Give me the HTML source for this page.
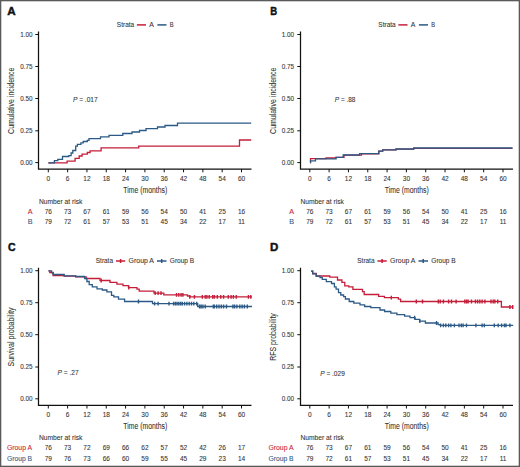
<!DOCTYPE html><html><head><meta charset="utf-8"><style>html,body{margin:0;padding:0;background:#fff;}svg{display:block;}text{font-family:"Liberation Sans", sans-serif;}</style></head><body>
<svg width="520" height="467" viewBox="0 0 520 467">
<rect x="0" y="0" width="520" height="467" fill="#ffffff"/>
<text x="7.30" y="15.00" font-size="11.4" text-anchor="start" fill="#111" font-weight="bold" font-style="normal" textLength="8.4" lengthAdjust="spacingAndGlyphs" stroke="#111" stroke-width="0.45">A</text>
<text x="270.30" y="15.10" font-size="11.4" text-anchor="start" fill="#111" font-weight="bold" font-style="normal" textLength="6.9" lengthAdjust="spacingAndGlyphs" stroke="#111" stroke-width="0.45">B</text>
<text x="8.00" y="251.30" font-size="11.4" text-anchor="start" fill="#111" font-weight="bold" font-style="normal" textLength="7.6" lengthAdjust="spacingAndGlyphs" stroke="#111" stroke-width="0.45">C</text>
<text x="269.90" y="251.30" font-size="11.4" text-anchor="start" fill="#111" font-weight="bold" font-style="normal" textLength="8.3" lengthAdjust="spacingAndGlyphs" stroke="#111" stroke-width="0.45">D</text>
<path d="M38.50,31.50 V169.10 H251.50" fill="none" stroke="#111111" stroke-width="1.25"/>
<path d="M35.30,34.50 H38.50 M35.30,66.50 H38.50 M35.30,98.50 H38.50 M35.30,130.80 H38.50 M35.30,162.60 H38.50 M48.30,169.10 V172.30 M67.62,169.10 V172.30 M86.94,169.10 V172.30 M106.26,169.10 V172.30 M125.58,169.10 V172.30 M144.90,169.10 V172.30 M164.22,169.10 V172.30 M183.54,169.10 V172.30 M202.86,169.10 V172.30 M222.18,169.10 V172.30 M241.50,169.10 V172.30 " fill="none" stroke="#111111" stroke-width="1"/>
<text x="32.60" y="36.80" font-size="6.4" text-anchor="end" fill="#333333" font-weight="normal" font-style="normal" textLength="12.4" lengthAdjust="spacingAndGlyphs" stroke="#333333" stroke-width="0.08">1.00</text>
<text x="32.60" y="68.80" font-size="6.4" text-anchor="end" fill="#333333" font-weight="normal" font-style="normal" textLength="12.4" lengthAdjust="spacingAndGlyphs" stroke="#333333" stroke-width="0.08">0.75</text>
<text x="32.60" y="100.80" font-size="6.4" text-anchor="end" fill="#333333" font-weight="normal" font-style="normal" textLength="12.4" lengthAdjust="spacingAndGlyphs" stroke="#333333" stroke-width="0.08">0.50</text>
<text x="32.60" y="133.10" font-size="6.4" text-anchor="end" fill="#333333" font-weight="normal" font-style="normal" textLength="12.4" lengthAdjust="spacingAndGlyphs" stroke="#333333" stroke-width="0.08">0.25</text>
<text x="32.60" y="164.90" font-size="6.4" text-anchor="end" fill="#333333" font-weight="normal" font-style="normal" textLength="12.4" lengthAdjust="spacingAndGlyphs" stroke="#333333" stroke-width="0.08">0.00</text>
<text x="48.30" y="180.70" font-size="6.5" text-anchor="middle" fill="#333333" font-weight="normal" font-style="normal" stroke="#333333" stroke-width="0.08">0</text>
<text x="67.62" y="180.70" font-size="6.5" text-anchor="middle" fill="#333333" font-weight="normal" font-style="normal" stroke="#333333" stroke-width="0.08">6</text>
<text x="86.94" y="180.70" font-size="6.5" text-anchor="middle" fill="#333333" font-weight="normal" font-style="normal" stroke="#333333" stroke-width="0.08">12</text>
<text x="106.26" y="180.70" font-size="6.5" text-anchor="middle" fill="#333333" font-weight="normal" font-style="normal" stroke="#333333" stroke-width="0.08">18</text>
<text x="125.58" y="180.70" font-size="6.5" text-anchor="middle" fill="#333333" font-weight="normal" font-style="normal" stroke="#333333" stroke-width="0.08">24</text>
<text x="144.90" y="180.70" font-size="6.5" text-anchor="middle" fill="#333333" font-weight="normal" font-style="normal" stroke="#333333" stroke-width="0.08">30</text>
<text x="164.22" y="180.70" font-size="6.5" text-anchor="middle" fill="#333333" font-weight="normal" font-style="normal" stroke="#333333" stroke-width="0.08">36</text>
<text x="183.54" y="180.70" font-size="6.5" text-anchor="middle" fill="#333333" font-weight="normal" font-style="normal" stroke="#333333" stroke-width="0.08">42</text>
<text x="202.86" y="180.70" font-size="6.5" text-anchor="middle" fill="#333333" font-weight="normal" font-style="normal" stroke="#333333" stroke-width="0.08">48</text>
<text x="222.18" y="180.70" font-size="6.5" text-anchor="middle" fill="#333333" font-weight="normal" font-style="normal" stroke="#333333" stroke-width="0.08">54</text>
<text x="241.50" y="180.70" font-size="6.5" text-anchor="middle" fill="#333333" font-weight="normal" font-style="normal" stroke="#333333" stroke-width="0.08">60</text>
<text x="123.30" y="193.00" font-size="8.4" text-anchor="start" fill="#333333" font-weight="normal" font-style="normal" textLength="44" lengthAdjust="spacingAndGlyphs" stroke="#333333" stroke-width="0.08">Time (months)</text>
<text transform="translate(14.00,100.80) rotate(-90)" x="0" y="0" font-size="8.4" text-anchor="middle" fill="#333333" stroke="#333333" stroke-width="0.08" textLength="66.2" lengthAdjust="spacingAndGlyphs">Cumulative incidence</text>
<path d="M300.50,31.50 V169.10 H513.00" fill="none" stroke="#111111" stroke-width="1.25"/>
<path d="M297.30,34.50 H300.50 M297.30,66.50 H300.50 M297.30,98.50 H300.50 M297.30,130.80 H300.50 M297.30,162.60 H300.50 M309.80,169.10 V172.30 M329.12,169.10 V172.30 M348.44,169.10 V172.30 M367.76,169.10 V172.30 M387.08,169.10 V172.30 M406.40,169.10 V172.30 M425.72,169.10 V172.30 M445.04,169.10 V172.30 M464.36,169.10 V172.30 M483.68,169.10 V172.30 M503.00,169.10 V172.30 " fill="none" stroke="#111111" stroke-width="1"/>
<text x="294.10" y="36.80" font-size="6.4" text-anchor="end" fill="#333333" font-weight="normal" font-style="normal" textLength="12.4" lengthAdjust="spacingAndGlyphs" stroke="#333333" stroke-width="0.08">1.00</text>
<text x="294.10" y="68.80" font-size="6.4" text-anchor="end" fill="#333333" font-weight="normal" font-style="normal" textLength="12.4" lengthAdjust="spacingAndGlyphs" stroke="#333333" stroke-width="0.08">0.75</text>
<text x="294.10" y="100.80" font-size="6.4" text-anchor="end" fill="#333333" font-weight="normal" font-style="normal" textLength="12.4" lengthAdjust="spacingAndGlyphs" stroke="#333333" stroke-width="0.08">0.50</text>
<text x="294.10" y="133.10" font-size="6.4" text-anchor="end" fill="#333333" font-weight="normal" font-style="normal" textLength="12.4" lengthAdjust="spacingAndGlyphs" stroke="#333333" stroke-width="0.08">0.25</text>
<text x="294.10" y="164.90" font-size="6.4" text-anchor="end" fill="#333333" font-weight="normal" font-style="normal" textLength="12.4" lengthAdjust="spacingAndGlyphs" stroke="#333333" stroke-width="0.08">0.00</text>
<text x="309.80" y="180.70" font-size="6.5" text-anchor="middle" fill="#333333" font-weight="normal" font-style="normal" stroke="#333333" stroke-width="0.08">0</text>
<text x="329.12" y="180.70" font-size="6.5" text-anchor="middle" fill="#333333" font-weight="normal" font-style="normal" stroke="#333333" stroke-width="0.08">6</text>
<text x="348.44" y="180.70" font-size="6.5" text-anchor="middle" fill="#333333" font-weight="normal" font-style="normal" stroke="#333333" stroke-width="0.08">12</text>
<text x="367.76" y="180.70" font-size="6.5" text-anchor="middle" fill="#333333" font-weight="normal" font-style="normal" stroke="#333333" stroke-width="0.08">18</text>
<text x="387.08" y="180.70" font-size="6.5" text-anchor="middle" fill="#333333" font-weight="normal" font-style="normal" stroke="#333333" stroke-width="0.08">24</text>
<text x="406.40" y="180.70" font-size="6.5" text-anchor="middle" fill="#333333" font-weight="normal" font-style="normal" stroke="#333333" stroke-width="0.08">30</text>
<text x="425.72" y="180.70" font-size="6.5" text-anchor="middle" fill="#333333" font-weight="normal" font-style="normal" stroke="#333333" stroke-width="0.08">36</text>
<text x="445.04" y="180.70" font-size="6.5" text-anchor="middle" fill="#333333" font-weight="normal" font-style="normal" stroke="#333333" stroke-width="0.08">42</text>
<text x="464.36" y="180.70" font-size="6.5" text-anchor="middle" fill="#333333" font-weight="normal" font-style="normal" stroke="#333333" stroke-width="0.08">48</text>
<text x="483.68" y="180.70" font-size="6.5" text-anchor="middle" fill="#333333" font-weight="normal" font-style="normal" stroke="#333333" stroke-width="0.08">54</text>
<text x="503.00" y="180.70" font-size="6.5" text-anchor="middle" fill="#333333" font-weight="normal" font-style="normal" stroke="#333333" stroke-width="0.08">60</text>
<text x="384.80" y="193.00" font-size="8.4" text-anchor="start" fill="#333333" font-weight="normal" font-style="normal" textLength="44" lengthAdjust="spacingAndGlyphs" stroke="#333333" stroke-width="0.08">Time (months)</text>
<text transform="translate(275.50,100.80) rotate(-90)" x="0" y="0" font-size="8.4" text-anchor="middle" fill="#333333" stroke="#333333" stroke-width="0.08" textLength="66.2" lengthAdjust="spacingAndGlyphs">Cumulative incidence</text>
<path d="M38.50,267.70 V405.30 H251.50" fill="none" stroke="#111111" stroke-width="1.25"/>
<path d="M35.30,270.70 H38.50 M35.30,302.70 H38.50 M35.30,334.70 H38.50 M35.30,367.00 H38.50 M35.30,398.80 H38.50 M48.30,405.30 V408.50 M67.62,405.30 V408.50 M86.94,405.30 V408.50 M106.26,405.30 V408.50 M125.58,405.30 V408.50 M144.90,405.30 V408.50 M164.22,405.30 V408.50 M183.54,405.30 V408.50 M202.86,405.30 V408.50 M222.18,405.30 V408.50 M241.50,405.30 V408.50 " fill="none" stroke="#111111" stroke-width="1"/>
<text x="32.60" y="273.00" font-size="6.4" text-anchor="end" fill="#333333" font-weight="normal" font-style="normal" textLength="12.4" lengthAdjust="spacingAndGlyphs" stroke="#333333" stroke-width="0.08">1.00</text>
<text x="32.60" y="305.00" font-size="6.4" text-anchor="end" fill="#333333" font-weight="normal" font-style="normal" textLength="12.4" lengthAdjust="spacingAndGlyphs" stroke="#333333" stroke-width="0.08">0.75</text>
<text x="32.60" y="337.00" font-size="6.4" text-anchor="end" fill="#333333" font-weight="normal" font-style="normal" textLength="12.4" lengthAdjust="spacingAndGlyphs" stroke="#333333" stroke-width="0.08">0.50</text>
<text x="32.60" y="369.30" font-size="6.4" text-anchor="end" fill="#333333" font-weight="normal" font-style="normal" textLength="12.4" lengthAdjust="spacingAndGlyphs" stroke="#333333" stroke-width="0.08">0.25</text>
<text x="32.60" y="401.10" font-size="6.4" text-anchor="end" fill="#333333" font-weight="normal" font-style="normal" textLength="12.4" lengthAdjust="spacingAndGlyphs" stroke="#333333" stroke-width="0.08">0.00</text>
<text x="48.30" y="416.90" font-size="6.5" text-anchor="middle" fill="#333333" font-weight="normal" font-style="normal" stroke="#333333" stroke-width="0.08">0</text>
<text x="67.62" y="416.90" font-size="6.5" text-anchor="middle" fill="#333333" font-weight="normal" font-style="normal" stroke="#333333" stroke-width="0.08">6</text>
<text x="86.94" y="416.90" font-size="6.5" text-anchor="middle" fill="#333333" font-weight="normal" font-style="normal" stroke="#333333" stroke-width="0.08">12</text>
<text x="106.26" y="416.90" font-size="6.5" text-anchor="middle" fill="#333333" font-weight="normal" font-style="normal" stroke="#333333" stroke-width="0.08">18</text>
<text x="125.58" y="416.90" font-size="6.5" text-anchor="middle" fill="#333333" font-weight="normal" font-style="normal" stroke="#333333" stroke-width="0.08">24</text>
<text x="144.90" y="416.90" font-size="6.5" text-anchor="middle" fill="#333333" font-weight="normal" font-style="normal" stroke="#333333" stroke-width="0.08">30</text>
<text x="164.22" y="416.90" font-size="6.5" text-anchor="middle" fill="#333333" font-weight="normal" font-style="normal" stroke="#333333" stroke-width="0.08">36</text>
<text x="183.54" y="416.90" font-size="6.5" text-anchor="middle" fill="#333333" font-weight="normal" font-style="normal" stroke="#333333" stroke-width="0.08">42</text>
<text x="202.86" y="416.90" font-size="6.5" text-anchor="middle" fill="#333333" font-weight="normal" font-style="normal" stroke="#333333" stroke-width="0.08">48</text>
<text x="222.18" y="416.90" font-size="6.5" text-anchor="middle" fill="#333333" font-weight="normal" font-style="normal" stroke="#333333" stroke-width="0.08">54</text>
<text x="241.50" y="416.90" font-size="6.5" text-anchor="middle" fill="#333333" font-weight="normal" font-style="normal" stroke="#333333" stroke-width="0.08">60</text>
<text x="123.30" y="429.20" font-size="8.4" text-anchor="start" fill="#333333" font-weight="normal" font-style="normal" textLength="44" lengthAdjust="spacingAndGlyphs" stroke="#333333" stroke-width="0.08">Time (months)</text>
<text transform="translate(14.00,337.00) rotate(-90)" x="0" y="0" font-size="8.4" text-anchor="middle" fill="#333333" stroke="#333333" stroke-width="0.08" textLength="59" lengthAdjust="spacingAndGlyphs">Survival probability</text>
<path d="M300.50,267.70 V405.30 H513.00" fill="none" stroke="#111111" stroke-width="1.25"/>
<path d="M297.30,270.70 H300.50 M297.30,302.70 H300.50 M297.30,334.70 H300.50 M297.30,367.00 H300.50 M297.30,398.80 H300.50 M309.80,405.30 V408.50 M329.12,405.30 V408.50 M348.44,405.30 V408.50 M367.76,405.30 V408.50 M387.08,405.30 V408.50 M406.40,405.30 V408.50 M425.72,405.30 V408.50 M445.04,405.30 V408.50 M464.36,405.30 V408.50 M483.68,405.30 V408.50 M503.00,405.30 V408.50 " fill="none" stroke="#111111" stroke-width="1"/>
<text x="294.10" y="273.00" font-size="6.4" text-anchor="end" fill="#333333" font-weight="normal" font-style="normal" textLength="12.4" lengthAdjust="spacingAndGlyphs" stroke="#333333" stroke-width="0.08">1.00</text>
<text x="294.10" y="305.00" font-size="6.4" text-anchor="end" fill="#333333" font-weight="normal" font-style="normal" textLength="12.4" lengthAdjust="spacingAndGlyphs" stroke="#333333" stroke-width="0.08">0.75</text>
<text x="294.10" y="337.00" font-size="6.4" text-anchor="end" fill="#333333" font-weight="normal" font-style="normal" textLength="12.4" lengthAdjust="spacingAndGlyphs" stroke="#333333" stroke-width="0.08">0.50</text>
<text x="294.10" y="369.30" font-size="6.4" text-anchor="end" fill="#333333" font-weight="normal" font-style="normal" textLength="12.4" lengthAdjust="spacingAndGlyphs" stroke="#333333" stroke-width="0.08">0.25</text>
<text x="294.10" y="401.10" font-size="6.4" text-anchor="end" fill="#333333" font-weight="normal" font-style="normal" textLength="12.4" lengthAdjust="spacingAndGlyphs" stroke="#333333" stroke-width="0.08">0.00</text>
<text x="309.80" y="416.90" font-size="6.5" text-anchor="middle" fill="#333333" font-weight="normal" font-style="normal" stroke="#333333" stroke-width="0.08">0</text>
<text x="329.12" y="416.90" font-size="6.5" text-anchor="middle" fill="#333333" font-weight="normal" font-style="normal" stroke="#333333" stroke-width="0.08">6</text>
<text x="348.44" y="416.90" font-size="6.5" text-anchor="middle" fill="#333333" font-weight="normal" font-style="normal" stroke="#333333" stroke-width="0.08">12</text>
<text x="367.76" y="416.90" font-size="6.5" text-anchor="middle" fill="#333333" font-weight="normal" font-style="normal" stroke="#333333" stroke-width="0.08">18</text>
<text x="387.08" y="416.90" font-size="6.5" text-anchor="middle" fill="#333333" font-weight="normal" font-style="normal" stroke="#333333" stroke-width="0.08">24</text>
<text x="406.40" y="416.90" font-size="6.5" text-anchor="middle" fill="#333333" font-weight="normal" font-style="normal" stroke="#333333" stroke-width="0.08">30</text>
<text x="425.72" y="416.90" font-size="6.5" text-anchor="middle" fill="#333333" font-weight="normal" font-style="normal" stroke="#333333" stroke-width="0.08">36</text>
<text x="445.04" y="416.90" font-size="6.5" text-anchor="middle" fill="#333333" font-weight="normal" font-style="normal" stroke="#333333" stroke-width="0.08">42</text>
<text x="464.36" y="416.90" font-size="6.5" text-anchor="middle" fill="#333333" font-weight="normal" font-style="normal" stroke="#333333" stroke-width="0.08">48</text>
<text x="483.68" y="416.90" font-size="6.5" text-anchor="middle" fill="#333333" font-weight="normal" font-style="normal" stroke="#333333" stroke-width="0.08">54</text>
<text x="503.00" y="416.90" font-size="6.5" text-anchor="middle" fill="#333333" font-weight="normal" font-style="normal" stroke="#333333" stroke-width="0.08">60</text>
<text x="384.80" y="429.20" font-size="8.4" text-anchor="start" fill="#333333" font-weight="normal" font-style="normal" textLength="44" lengthAdjust="spacingAndGlyphs" stroke="#333333" stroke-width="0.08">Time (months)</text>
<text transform="translate(275.50,337.00) rotate(-90)" x="0" y="0" font-size="8.4" text-anchor="middle" fill="#333333" stroke="#333333" stroke-width="0.08" textLength="47.6" lengthAdjust="spacingAndGlyphs">RFS probability</text>
<text x="116.80" y="26.90" font-size="7.1" text-anchor="start" fill="#333333" font-weight="normal" font-style="normal" textLength="17.4" lengthAdjust="spacingAndGlyphs" stroke="#333333" stroke-width="0.08">Strata</text>
<path d="M136.90,24.9 H146.00" stroke="#c41e3a" stroke-width="1.5"/>
<text x="149.20" y="26.90" font-size="7.1" text-anchor="start" fill="#333333" font-weight="normal" font-style="normal" textLength="4.6" lengthAdjust="spacingAndGlyphs" stroke="#333333" stroke-width="0.08">A</text>
<path d="M157.40,24.9 H166.50" stroke="#2b5a86" stroke-width="1.5"/>
<text x="169.80" y="26.90" font-size="7.1" text-anchor="start" fill="#333333" font-weight="normal" font-style="normal" textLength="3.8" lengthAdjust="spacingAndGlyphs" stroke="#333333" stroke-width="0.08">B</text>
<text x="378.30" y="26.90" font-size="7.1" text-anchor="start" fill="#333333" font-weight="normal" font-style="normal" textLength="17.4" lengthAdjust="spacingAndGlyphs" stroke="#333333" stroke-width="0.08">Strata</text>
<path d="M398.40,24.9 H407.50" stroke="#c41e3a" stroke-width="1.5"/>
<text x="410.70" y="26.90" font-size="7.1" text-anchor="start" fill="#333333" font-weight="normal" font-style="normal" textLength="4.6" lengthAdjust="spacingAndGlyphs" stroke="#333333" stroke-width="0.08">A</text>
<path d="M418.90,24.9 H428.00" stroke="#2b5a86" stroke-width="1.5"/>
<text x="431.30" y="26.90" font-size="7.1" text-anchor="start" fill="#333333" font-weight="normal" font-style="normal" textLength="3.8" lengthAdjust="spacingAndGlyphs" stroke="#333333" stroke-width="0.08">B</text>
<text x="95.80" y="263.10" font-size="7.1" text-anchor="start" fill="#333333" font-weight="normal" font-style="normal" textLength="17.2" lengthAdjust="spacingAndGlyphs" stroke="#333333" stroke-width="0.08">Strata</text>
<path d="M116.00,261.10 H125.20 M120.60,259.10 V263.10" stroke="#c41e3a" stroke-width="1.5"/>
<text x="128.60" y="263.10" font-size="7.1" text-anchor="start" fill="#333333" font-weight="normal" font-style="normal" textLength="25.4" lengthAdjust="spacingAndGlyphs" stroke="#333333" stroke-width="0.08">Group A</text>
<path d="M157.00,261.10 H166.50 M161.70,259.10 V263.10" stroke="#2b5a86" stroke-width="1.5"/>
<text x="169.80" y="263.10" font-size="7.1" text-anchor="start" fill="#333333" font-weight="normal" font-style="normal" textLength="24.4" lengthAdjust="spacingAndGlyphs" stroke="#333333" stroke-width="0.08">Group B</text>
<text x="357.30" y="263.10" font-size="7.1" text-anchor="start" fill="#333333" font-weight="normal" font-style="normal" textLength="17.2" lengthAdjust="spacingAndGlyphs" stroke="#333333" stroke-width="0.08">Strata</text>
<path d="M377.50,261.10 H386.70 M382.10,259.10 V263.10" stroke="#c41e3a" stroke-width="1.5"/>
<text x="390.10" y="263.10" font-size="7.1" text-anchor="start" fill="#333333" font-weight="normal" font-style="normal" textLength="25.4" lengthAdjust="spacingAndGlyphs" stroke="#333333" stroke-width="0.08">Group A</text>
<path d="M418.50,261.10 H428.00 M423.20,259.10 V263.10" stroke="#2b5a86" stroke-width="1.5"/>
<text x="431.30" y="263.10" font-size="7.1" text-anchor="start" fill="#333333" font-weight="normal" font-style="normal" textLength="24.4" lengthAdjust="spacingAndGlyphs" stroke="#333333" stroke-width="0.08">Group B</text>
<text x="72.90" y="102.00" font-size="6.8" fill="#333333" stroke="#333333" stroke-width="0.08" textLength="24.8" lengthAdjust="spacingAndGlyphs"><tspan font-style="italic">P</tspan> = .017</text>
<text x="334.80" y="101.80" font-size="6.8" fill="#333333" stroke="#333333" stroke-width="0.08" textLength="20.6" lengthAdjust="spacingAndGlyphs"><tspan font-style="italic">P</tspan> = .88</text>
<text x="57.50" y="375.30" font-size="6.8" fill="#333333" stroke="#333333" stroke-width="0.08" textLength="21.2" lengthAdjust="spacingAndGlyphs"><tspan font-style="italic">P</tspan> = .27</text>
<text x="320.20" y="375.60" font-size="6.8" fill="#333333" stroke="#333333" stroke-width="0.08" textLength="24.6" lengthAdjust="spacingAndGlyphs"><tspan font-style="italic">P</tspan> = .029</text>
<text x="38.90" y="204.20" font-size="6.7" text-anchor="start" fill="#333333" font-weight="normal" font-style="normal" textLength="43.5" lengthAdjust="spacingAndGlyphs" stroke="#333333" stroke-width="0.08">Number at risk</text>
<text x="27.70" y="214.20" font-size="6.5" text-anchor="start" fill="#c41e3a" font-weight="normal" font-style="normal" textLength="4.8" lengthAdjust="spacingAndGlyphs" stroke="#c41e3a" stroke-width="0.08">A</text>
<text x="48.30" y="214.20" font-size="6.5" text-anchor="middle" fill="#333333" font-weight="normal" font-style="normal" stroke="#333333" stroke-width="0.08">76</text>
<text x="67.62" y="214.20" font-size="6.5" text-anchor="middle" fill="#333333" font-weight="normal" font-style="normal" stroke="#333333" stroke-width="0.08">73</text>
<text x="86.94" y="214.20" font-size="6.5" text-anchor="middle" fill="#333333" font-weight="normal" font-style="normal" stroke="#333333" stroke-width="0.08">67</text>
<text x="106.26" y="214.20" font-size="6.5" text-anchor="middle" fill="#333333" font-weight="normal" font-style="normal" stroke="#333333" stroke-width="0.08">61</text>
<text x="125.58" y="214.20" font-size="6.5" text-anchor="middle" fill="#333333" font-weight="normal" font-style="normal" stroke="#333333" stroke-width="0.08">59</text>
<text x="144.90" y="214.20" font-size="6.5" text-anchor="middle" fill="#333333" font-weight="normal" font-style="normal" stroke="#333333" stroke-width="0.08">56</text>
<text x="164.22" y="214.20" font-size="6.5" text-anchor="middle" fill="#333333" font-weight="normal" font-style="normal" stroke="#333333" stroke-width="0.08">54</text>
<text x="183.54" y="214.20" font-size="6.5" text-anchor="middle" fill="#333333" font-weight="normal" font-style="normal" stroke="#333333" stroke-width="0.08">50</text>
<text x="202.86" y="214.20" font-size="6.5" text-anchor="middle" fill="#333333" font-weight="normal" font-style="normal" stroke="#333333" stroke-width="0.08">41</text>
<text x="222.18" y="214.20" font-size="6.5" text-anchor="middle" fill="#333333" font-weight="normal" font-style="normal" stroke="#333333" stroke-width="0.08">25</text>
<text x="241.50" y="214.20" font-size="6.5" text-anchor="middle" fill="#333333" font-weight="normal" font-style="normal" stroke="#333333" stroke-width="0.08">16</text>
<text x="27.70" y="224.30" font-size="6.5" text-anchor="start" fill="#2b5a86" font-weight="normal" font-style="normal" textLength="4.8" lengthAdjust="spacingAndGlyphs" stroke="#2b5a86" stroke-width="0.08">B</text>
<text x="48.30" y="224.30" font-size="6.5" text-anchor="middle" fill="#333333" font-weight="normal" font-style="normal" stroke="#333333" stroke-width="0.08">79</text>
<text x="67.62" y="224.30" font-size="6.5" text-anchor="middle" fill="#333333" font-weight="normal" font-style="normal" stroke="#333333" stroke-width="0.08">72</text>
<text x="86.94" y="224.30" font-size="6.5" text-anchor="middle" fill="#333333" font-weight="normal" font-style="normal" stroke="#333333" stroke-width="0.08">61</text>
<text x="106.26" y="224.30" font-size="6.5" text-anchor="middle" fill="#333333" font-weight="normal" font-style="normal" stroke="#333333" stroke-width="0.08">57</text>
<text x="125.58" y="224.30" font-size="6.5" text-anchor="middle" fill="#333333" font-weight="normal" font-style="normal" stroke="#333333" stroke-width="0.08">53</text>
<text x="144.90" y="224.30" font-size="6.5" text-anchor="middle" fill="#333333" font-weight="normal" font-style="normal" stroke="#333333" stroke-width="0.08">51</text>
<text x="164.22" y="224.30" font-size="6.5" text-anchor="middle" fill="#333333" font-weight="normal" font-style="normal" stroke="#333333" stroke-width="0.08">45</text>
<text x="183.54" y="224.30" font-size="6.5" text-anchor="middle" fill="#333333" font-weight="normal" font-style="normal" stroke="#333333" stroke-width="0.08">34</text>
<text x="202.86" y="224.30" font-size="6.5" text-anchor="middle" fill="#333333" font-weight="normal" font-style="normal" stroke="#333333" stroke-width="0.08">22</text>
<text x="222.18" y="224.30" font-size="6.5" text-anchor="middle" fill="#333333" font-weight="normal" font-style="normal" stroke="#333333" stroke-width="0.08">17</text>
<text x="241.50" y="224.30" font-size="6.5" text-anchor="middle" fill="#333333" font-weight="normal" font-style="normal" stroke="#333333" stroke-width="0.08">11</text>
<text x="300.40" y="204.20" font-size="6.7" text-anchor="start" fill="#333333" font-weight="normal" font-style="normal" textLength="43.5" lengthAdjust="spacingAndGlyphs" stroke="#333333" stroke-width="0.08">Number at risk</text>
<text x="289.20" y="214.20" font-size="6.5" text-anchor="start" fill="#c41e3a" font-weight="normal" font-style="normal" textLength="4.8" lengthAdjust="spacingAndGlyphs" stroke="#c41e3a" stroke-width="0.08">A</text>
<text x="309.80" y="214.20" font-size="6.5" text-anchor="middle" fill="#333333" font-weight="normal" font-style="normal" stroke="#333333" stroke-width="0.08">76</text>
<text x="329.12" y="214.20" font-size="6.5" text-anchor="middle" fill="#333333" font-weight="normal" font-style="normal" stroke="#333333" stroke-width="0.08">73</text>
<text x="348.44" y="214.20" font-size="6.5" text-anchor="middle" fill="#333333" font-weight="normal" font-style="normal" stroke="#333333" stroke-width="0.08">67</text>
<text x="367.76" y="214.20" font-size="6.5" text-anchor="middle" fill="#333333" font-weight="normal" font-style="normal" stroke="#333333" stroke-width="0.08">61</text>
<text x="387.08" y="214.20" font-size="6.5" text-anchor="middle" fill="#333333" font-weight="normal" font-style="normal" stroke="#333333" stroke-width="0.08">59</text>
<text x="406.40" y="214.20" font-size="6.5" text-anchor="middle" fill="#333333" font-weight="normal" font-style="normal" stroke="#333333" stroke-width="0.08">56</text>
<text x="425.72" y="214.20" font-size="6.5" text-anchor="middle" fill="#333333" font-weight="normal" font-style="normal" stroke="#333333" stroke-width="0.08">54</text>
<text x="445.04" y="214.20" font-size="6.5" text-anchor="middle" fill="#333333" font-weight="normal" font-style="normal" stroke="#333333" stroke-width="0.08">50</text>
<text x="464.36" y="214.20" font-size="6.5" text-anchor="middle" fill="#333333" font-weight="normal" font-style="normal" stroke="#333333" stroke-width="0.08">41</text>
<text x="483.68" y="214.20" font-size="6.5" text-anchor="middle" fill="#333333" font-weight="normal" font-style="normal" stroke="#333333" stroke-width="0.08">25</text>
<text x="503.00" y="214.20" font-size="6.5" text-anchor="middle" fill="#333333" font-weight="normal" font-style="normal" stroke="#333333" stroke-width="0.08">16</text>
<text x="289.20" y="224.30" font-size="6.5" text-anchor="start" fill="#2b5a86" font-weight="normal" font-style="normal" textLength="4.8" lengthAdjust="spacingAndGlyphs" stroke="#2b5a86" stroke-width="0.08">B</text>
<text x="309.80" y="224.30" font-size="6.5" text-anchor="middle" fill="#333333" font-weight="normal" font-style="normal" stroke="#333333" stroke-width="0.08">79</text>
<text x="329.12" y="224.30" font-size="6.5" text-anchor="middle" fill="#333333" font-weight="normal" font-style="normal" stroke="#333333" stroke-width="0.08">72</text>
<text x="348.44" y="224.30" font-size="6.5" text-anchor="middle" fill="#333333" font-weight="normal" font-style="normal" stroke="#333333" stroke-width="0.08">61</text>
<text x="367.76" y="224.30" font-size="6.5" text-anchor="middle" fill="#333333" font-weight="normal" font-style="normal" stroke="#333333" stroke-width="0.08">57</text>
<text x="387.08" y="224.30" font-size="6.5" text-anchor="middle" fill="#333333" font-weight="normal" font-style="normal" stroke="#333333" stroke-width="0.08">53</text>
<text x="406.40" y="224.30" font-size="6.5" text-anchor="middle" fill="#333333" font-weight="normal" font-style="normal" stroke="#333333" stroke-width="0.08">51</text>
<text x="425.72" y="224.30" font-size="6.5" text-anchor="middle" fill="#333333" font-weight="normal" font-style="normal" stroke="#333333" stroke-width="0.08">45</text>
<text x="445.04" y="224.30" font-size="6.5" text-anchor="middle" fill="#333333" font-weight="normal" font-style="normal" stroke="#333333" stroke-width="0.08">34</text>
<text x="464.36" y="224.30" font-size="6.5" text-anchor="middle" fill="#333333" font-weight="normal" font-style="normal" stroke="#333333" stroke-width="0.08">22</text>
<text x="483.68" y="224.30" font-size="6.5" text-anchor="middle" fill="#333333" font-weight="normal" font-style="normal" stroke="#333333" stroke-width="0.08">17</text>
<text x="503.00" y="224.30" font-size="6.5" text-anchor="middle" fill="#333333" font-weight="normal" font-style="normal" stroke="#333333" stroke-width="0.08">11</text>
<text x="38.90" y="440.40" font-size="6.7" text-anchor="start" fill="#333333" font-weight="normal" font-style="normal" textLength="43.5" lengthAdjust="spacingAndGlyphs" stroke="#333333" stroke-width="0.08">Number at risk</text>
<text x="6.90" y="450.40" font-size="6.5" text-anchor="start" fill="#c41e3a" font-weight="normal" font-style="normal" textLength="25.2" lengthAdjust="spacingAndGlyphs" stroke="#c41e3a" stroke-width="0.08">Group A</text>
<text x="48.30" y="450.40" font-size="6.5" text-anchor="middle" fill="#333333" font-weight="normal" font-style="normal" stroke="#333333" stroke-width="0.08">76</text>
<text x="67.62" y="450.40" font-size="6.5" text-anchor="middle" fill="#333333" font-weight="normal" font-style="normal" stroke="#333333" stroke-width="0.08">73</text>
<text x="86.94" y="450.40" font-size="6.5" text-anchor="middle" fill="#333333" font-weight="normal" font-style="normal" stroke="#333333" stroke-width="0.08">72</text>
<text x="106.26" y="450.40" font-size="6.5" text-anchor="middle" fill="#333333" font-weight="normal" font-style="normal" stroke="#333333" stroke-width="0.08">69</text>
<text x="125.58" y="450.40" font-size="6.5" text-anchor="middle" fill="#333333" font-weight="normal" font-style="normal" stroke="#333333" stroke-width="0.08">66</text>
<text x="144.90" y="450.40" font-size="6.5" text-anchor="middle" fill="#333333" font-weight="normal" font-style="normal" stroke="#333333" stroke-width="0.08">62</text>
<text x="164.22" y="450.40" font-size="6.5" text-anchor="middle" fill="#333333" font-weight="normal" font-style="normal" stroke="#333333" stroke-width="0.08">57</text>
<text x="183.54" y="450.40" font-size="6.5" text-anchor="middle" fill="#333333" font-weight="normal" font-style="normal" stroke="#333333" stroke-width="0.08">52</text>
<text x="202.86" y="450.40" font-size="6.5" text-anchor="middle" fill="#333333" font-weight="normal" font-style="normal" stroke="#333333" stroke-width="0.08">42</text>
<text x="222.18" y="450.40" font-size="6.5" text-anchor="middle" fill="#333333" font-weight="normal" font-style="normal" stroke="#333333" stroke-width="0.08">26</text>
<text x="241.50" y="450.40" font-size="6.5" text-anchor="middle" fill="#333333" font-weight="normal" font-style="normal" stroke="#333333" stroke-width="0.08">17</text>
<text x="6.90" y="460.50" font-size="6.5" text-anchor="start" fill="#2b5a86" font-weight="normal" font-style="normal" textLength="25.2" lengthAdjust="spacingAndGlyphs" stroke="#2b5a86" stroke-width="0.08">Group B</text>
<text x="48.30" y="460.50" font-size="6.5" text-anchor="middle" fill="#333333" font-weight="normal" font-style="normal" stroke="#333333" stroke-width="0.08">79</text>
<text x="67.62" y="460.50" font-size="6.5" text-anchor="middle" fill="#333333" font-weight="normal" font-style="normal" stroke="#333333" stroke-width="0.08">76</text>
<text x="86.94" y="460.50" font-size="6.5" text-anchor="middle" fill="#333333" font-weight="normal" font-style="normal" stroke="#333333" stroke-width="0.08">73</text>
<text x="106.26" y="460.50" font-size="6.5" text-anchor="middle" fill="#333333" font-weight="normal" font-style="normal" stroke="#333333" stroke-width="0.08">66</text>
<text x="125.58" y="460.50" font-size="6.5" text-anchor="middle" fill="#333333" font-weight="normal" font-style="normal" stroke="#333333" stroke-width="0.08">60</text>
<text x="144.90" y="460.50" font-size="6.5" text-anchor="middle" fill="#333333" font-weight="normal" font-style="normal" stroke="#333333" stroke-width="0.08">59</text>
<text x="164.22" y="460.50" font-size="6.5" text-anchor="middle" fill="#333333" font-weight="normal" font-style="normal" stroke="#333333" stroke-width="0.08">55</text>
<text x="183.54" y="460.50" font-size="6.5" text-anchor="middle" fill="#333333" font-weight="normal" font-style="normal" stroke="#333333" stroke-width="0.08">45</text>
<text x="202.86" y="460.50" font-size="6.5" text-anchor="middle" fill="#333333" font-weight="normal" font-style="normal" stroke="#333333" stroke-width="0.08">29</text>
<text x="222.18" y="460.50" font-size="6.5" text-anchor="middle" fill="#333333" font-weight="normal" font-style="normal" stroke="#333333" stroke-width="0.08">23</text>
<text x="241.50" y="460.50" font-size="6.5" text-anchor="middle" fill="#333333" font-weight="normal" font-style="normal" stroke="#333333" stroke-width="0.08">14</text>
<text x="300.40" y="440.40" font-size="6.7" text-anchor="start" fill="#333333" font-weight="normal" font-style="normal" textLength="43.5" lengthAdjust="spacingAndGlyphs" stroke="#333333" stroke-width="0.08">Number at risk</text>
<text x="268.40" y="450.40" font-size="6.5" text-anchor="start" fill="#c41e3a" font-weight="normal" font-style="normal" textLength="25.2" lengthAdjust="spacingAndGlyphs" stroke="#c41e3a" stroke-width="0.08">Group A</text>
<text x="309.80" y="450.40" font-size="6.5" text-anchor="middle" fill="#333333" font-weight="normal" font-style="normal" stroke="#333333" stroke-width="0.08">76</text>
<text x="329.12" y="450.40" font-size="6.5" text-anchor="middle" fill="#333333" font-weight="normal" font-style="normal" stroke="#333333" stroke-width="0.08">73</text>
<text x="348.44" y="450.40" font-size="6.5" text-anchor="middle" fill="#333333" font-weight="normal" font-style="normal" stroke="#333333" stroke-width="0.08">67</text>
<text x="367.76" y="450.40" font-size="6.5" text-anchor="middle" fill="#333333" font-weight="normal" font-style="normal" stroke="#333333" stroke-width="0.08">61</text>
<text x="387.08" y="450.40" font-size="6.5" text-anchor="middle" fill="#333333" font-weight="normal" font-style="normal" stroke="#333333" stroke-width="0.08">59</text>
<text x="406.40" y="450.40" font-size="6.5" text-anchor="middle" fill="#333333" font-weight="normal" font-style="normal" stroke="#333333" stroke-width="0.08">56</text>
<text x="425.72" y="450.40" font-size="6.5" text-anchor="middle" fill="#333333" font-weight="normal" font-style="normal" stroke="#333333" stroke-width="0.08">54</text>
<text x="445.04" y="450.40" font-size="6.5" text-anchor="middle" fill="#333333" font-weight="normal" font-style="normal" stroke="#333333" stroke-width="0.08">50</text>
<text x="464.36" y="450.40" font-size="6.5" text-anchor="middle" fill="#333333" font-weight="normal" font-style="normal" stroke="#333333" stroke-width="0.08">41</text>
<text x="483.68" y="450.40" font-size="6.5" text-anchor="middle" fill="#333333" font-weight="normal" font-style="normal" stroke="#333333" stroke-width="0.08">25</text>
<text x="503.00" y="450.40" font-size="6.5" text-anchor="middle" fill="#333333" font-weight="normal" font-style="normal" stroke="#333333" stroke-width="0.08">16</text>
<text x="268.40" y="460.50" font-size="6.5" text-anchor="start" fill="#2b5a86" font-weight="normal" font-style="normal" textLength="25.2" lengthAdjust="spacingAndGlyphs" stroke="#2b5a86" stroke-width="0.08">Group B</text>
<text x="309.80" y="460.50" font-size="6.5" text-anchor="middle" fill="#333333" font-weight="normal" font-style="normal" stroke="#333333" stroke-width="0.08">79</text>
<text x="329.12" y="460.50" font-size="6.5" text-anchor="middle" fill="#333333" font-weight="normal" font-style="normal" stroke="#333333" stroke-width="0.08">72</text>
<text x="348.44" y="460.50" font-size="6.5" text-anchor="middle" fill="#333333" font-weight="normal" font-style="normal" stroke="#333333" stroke-width="0.08">61</text>
<text x="367.76" y="460.50" font-size="6.5" text-anchor="middle" fill="#333333" font-weight="normal" font-style="normal" stroke="#333333" stroke-width="0.08">57</text>
<text x="387.08" y="460.50" font-size="6.5" text-anchor="middle" fill="#333333" font-weight="normal" font-style="normal" stroke="#333333" stroke-width="0.08">53</text>
<text x="406.40" y="460.50" font-size="6.5" text-anchor="middle" fill="#333333" font-weight="normal" font-style="normal" stroke="#333333" stroke-width="0.08">51</text>
<text x="425.72" y="460.50" font-size="6.5" text-anchor="middle" fill="#333333" font-weight="normal" font-style="normal" stroke="#333333" stroke-width="0.08">45</text>
<text x="445.04" y="460.50" font-size="6.5" text-anchor="middle" fill="#333333" font-weight="normal" font-style="normal" stroke="#333333" stroke-width="0.08">34</text>
<text x="464.36" y="460.50" font-size="6.5" text-anchor="middle" fill="#333333" font-weight="normal" font-style="normal" stroke="#333333" stroke-width="0.08">22</text>
<text x="483.68" y="460.50" font-size="6.5" text-anchor="middle" fill="#333333" font-weight="normal" font-style="normal" stroke="#333333" stroke-width="0.08">17</text>
<text x="503.00" y="460.50" font-size="6.5" text-anchor="middle" fill="#333333" font-weight="normal" font-style="normal" stroke="#333333" stroke-width="0.08">11</text>
<path d="M48.40,162.90 H67.10 V161.10 H75.10 V158.30 H79.20 V156.00 H82.10 V154.20 H87.30 V152.50 H90.10 V150.80 H101.10 V147.90 H138.70 V146.20 H239.50 V140.00 H251.20" fill="none" stroke="#c41e3a" stroke-width="1.3" stroke-linejoin="miter" stroke-linecap="butt"/>
<path d="M48.40,162.90 H54.40 V160.60 H57.80 V159.40 H62.50 V156.50 H68.80 V155.60 H71.10 V153.00 H72.80 V150.50 H75.70 V146.10 H77.40 V144.40 H80.90 V142.90 H83.20 V141.50 H87.30 V140.40 H89.00 V138.70 H100.50 V136.90 H109.00 V135.40 H122.80 V133.50 H132.00 V132.00 H139.50 V130.50 H146.00 V128.70 H157.50 V127.00 H165.00 V125.50 H177.50 V123.20 H251.20" fill="none" stroke="#2b5a86" stroke-width="1.3" stroke-linejoin="miter" stroke-linecap="butt"/>
<path d="M310.00,162.60 H310.50 V158.60 H326.00 V158.00 H336.00 V157.30 H344.00 V155.20 H361.50 V153.80 H378.80 V151.20 H382.70 V149.80 H396.00 V149.20 H413.70 V148.40 H512.50" fill="none" stroke="#c41e3a" stroke-width="1.3" stroke-linejoin="miter" stroke-linecap="butt"/>
<path d="M310.00,162.60 H310.50 V160.80 H315.50 V158.80 H336.00 V157.30 H343.20 V155.00 H359.60 V153.60 H378.80 V151.20 H382.70 V149.80 H396.00 V149.00 H413.70 V148.00 H512.50" fill="none" stroke="#2b5a86" stroke-width="1.3" stroke-linejoin="miter" stroke-linecap="butt"/>
<path d="M48.50,270.90 H49.80 V272.50 H53.10 V275.50 H64.20 V276.20 H75.70 V276.90 H86.20 V278.50 H100.00 V280.50 H110.00 V282.30 H116.90 V284.20 H123.00 V285.70 H128.50 V287.70 H137.00 V289.20 H139.20 V291.20 H154.00 V293.20 H163.80 V294.80 H187.50 V296.00 H189.80 V296.80 H252.00" fill="none" stroke="#c41e3a" stroke-width="1.3" stroke-linejoin="miter" stroke-linecap="butt"/>
<path d="M48.50,270.90 H51.60 V272.60 H53.10 V274.50 H64.20 V275.80 H75.70 V276.50 H84.60 V278.50 H86.90 V281.50 H89.20 V284.60 H92.30 V286.90 H97.00 V288.80 H102.30 V290.00 H106.90 V291.80 H111.50 V295.40 H113.80 V296.90 H118.50 V299.20 H124.60 V301.50 H152.50 V303.60 H197.70 V306.50 H252.00" fill="none" stroke="#2b5a86" stroke-width="1.3" stroke-linejoin="miter" stroke-linecap="butt"/>
<path d="M101.20,278.60 V282.40 M128.80,285.80 V289.60 M155.20,291.30 V295.10 M158.10,291.30 V295.10 M161.00,291.30 V295.10 M176.50,292.90 V296.70 M178.80,292.90 V296.70 M181.10,292.90 V296.70 M182.90,292.90 V296.70 M189.80,294.90 V298.70 M194.40,294.90 V298.70 M202.30,294.90 V298.70 M205.20,294.90 V298.70 M206.90,294.90 V298.70 M209.20,294.90 V298.70 M212.70,294.90 V298.70 M214.40,294.90 V298.70 M217.30,294.90 V298.70 M220.80,294.90 V298.70 M223.60,294.90 V298.70 M228.30,294.90 V298.70 M231.10,294.90 V298.70 M233.40,294.90 V298.70 M236.30,294.90 V298.70 M248.40,294.90 V298.70 M250.80,294.90 V298.70 " fill="none" stroke="#c41e3a" stroke-width="1.4"/>
<path d="M138.50,299.60 V303.40 M154.60,301.70 V305.50 M158.10,301.70 V305.50 M169.00,301.70 V305.50 M173.60,301.70 V305.50 M175.40,301.70 V305.50 M177.10,301.70 V305.50 M178.80,301.70 V305.50 M180.60,301.70 V305.50 M182.30,301.70 V305.50 M184.60,301.70 V305.50 M186.90,301.70 V305.50 M189.20,301.70 V305.50 M191.50,301.70 V305.50 M193.80,301.70 V305.50 M196.70,301.70 V305.50 M199.60,304.60 V308.40 M201.20,304.60 V308.40 M202.90,304.60 V308.40 M205.20,304.60 V308.40 M213.30,304.60 V308.40 M214.40,304.60 V308.40 M216.70,304.60 V308.40 M219.00,304.60 V308.40 M221.30,304.60 V308.40 M223.60,304.60 V308.40 M226.50,304.60 V308.40 M232.90,304.60 V308.40 M234.60,304.60 V308.40 M236.90,304.60 V308.40 M239.80,304.60 V308.40 M242.10,304.60 V308.40 M244.40,304.60 V308.40 M247.30,304.60 V308.40 " fill="none" stroke="#2b5a86" stroke-width="1.4"/>
<path d="M311.10,271.20 H312.70 V273.50 H316.20 V276.00 H329.80 V277.10 H337.50 V280.00 H341.90 V282.30 H344.80 V285.80 H348.80 V286.90 H352.90 V289.30 H362.50 V291.70 H364.20 V294.50 H378.60 V296.30 H384.40 V297.60 H398.30 V299.10 H400.60 V301.50 H501.40 V307.00 H513.20" fill="none" stroke="#c41e3a" stroke-width="1.3" stroke-linejoin="miter" stroke-linecap="butt"/>
<path d="M311.10,271.20 H312.70 V273.80 H316.20 V276.20 H320.00 V277.70 H322.30 V279.40 H326.30 V281.70 H331.50 V283.50 H334.40 V286.90 H336.10 V289.20 H338.50 V292.70 H340.80 V295.00 H343.60 V296.70 H345.40 V299.00 H349.20 V301.50 H353.80 V303.10 H360.00 V304.90 H364.60 V306.50 H370.80 V307.70 H380.00 V310.00 H384.60 V311.50 H390.80 V313.10 H396.90 V314.60 H404.60 V316.20 H410.00 V317.70 H415.00 V319.30 H419.60 V321.20 H425.40 V323.00 H438.10 V324.60 H440.40 V325.30 H513.20" fill="none" stroke="#2b5a86" stroke-width="1.3" stroke-linejoin="miter" stroke-linecap="butt"/>
<path d="M391.30,295.70 V299.50 M416.30,299.60 V303.40 M422.50,299.60 V303.40 M438.30,299.60 V303.40 M440.20,299.60 V303.40 M443.40,299.60 V303.40 M448.60,299.60 V303.40 M451.50,299.60 V303.40 M456.10,299.60 V303.40 M464.80,299.60 V303.40 M466.50,299.60 V303.40 M468.10,299.60 V303.40 M471.50,299.60 V303.40 M475.40,299.60 V303.40 M477.60,299.60 V303.40 M479.80,299.60 V303.40 M482.10,299.60 V303.40 M484.90,299.60 V303.40 M491.00,299.60 V303.40 M493.20,299.60 V303.40 M494.90,299.60 V303.40 M497.70,299.60 V303.40 M509.90,305.10 V308.90 M512.70,305.10 V308.90 " fill="none" stroke="#c41e3a" stroke-width="1.4"/>
<path d="M414.60,315.80 V319.60 M419.80,319.30 V323.10 M436.50,321.10 V324.90 M440.60,323.40 V327.20 M443.40,323.40 V327.20 M445.80,323.40 V327.20 M448.60,323.40 V327.20 M450.90,323.40 V327.20 M454.40,323.40 V327.20 M459.00,323.40 V327.20 M461.30,323.40 V327.20 M463.10,323.40 V327.20 M466.50,323.40 V327.20 M475.90,323.40 V327.20 M482.10,323.40 V327.20 M484.30,323.40 V327.20 M494.30,323.40 V327.20 M498.20,323.40 V327.20 M501.60,323.40 V327.20 M504.40,323.40 V327.20 M506.00,323.40 V327.20 M509.90,323.40 V327.20 " fill="none" stroke="#2b5a86" stroke-width="1.4"/>
<rect x="0.65" y="0.65" width="518.7" height="465.7" fill="none" stroke="#5a5a5a" stroke-width="1.3"/>
</svg></body></html>
